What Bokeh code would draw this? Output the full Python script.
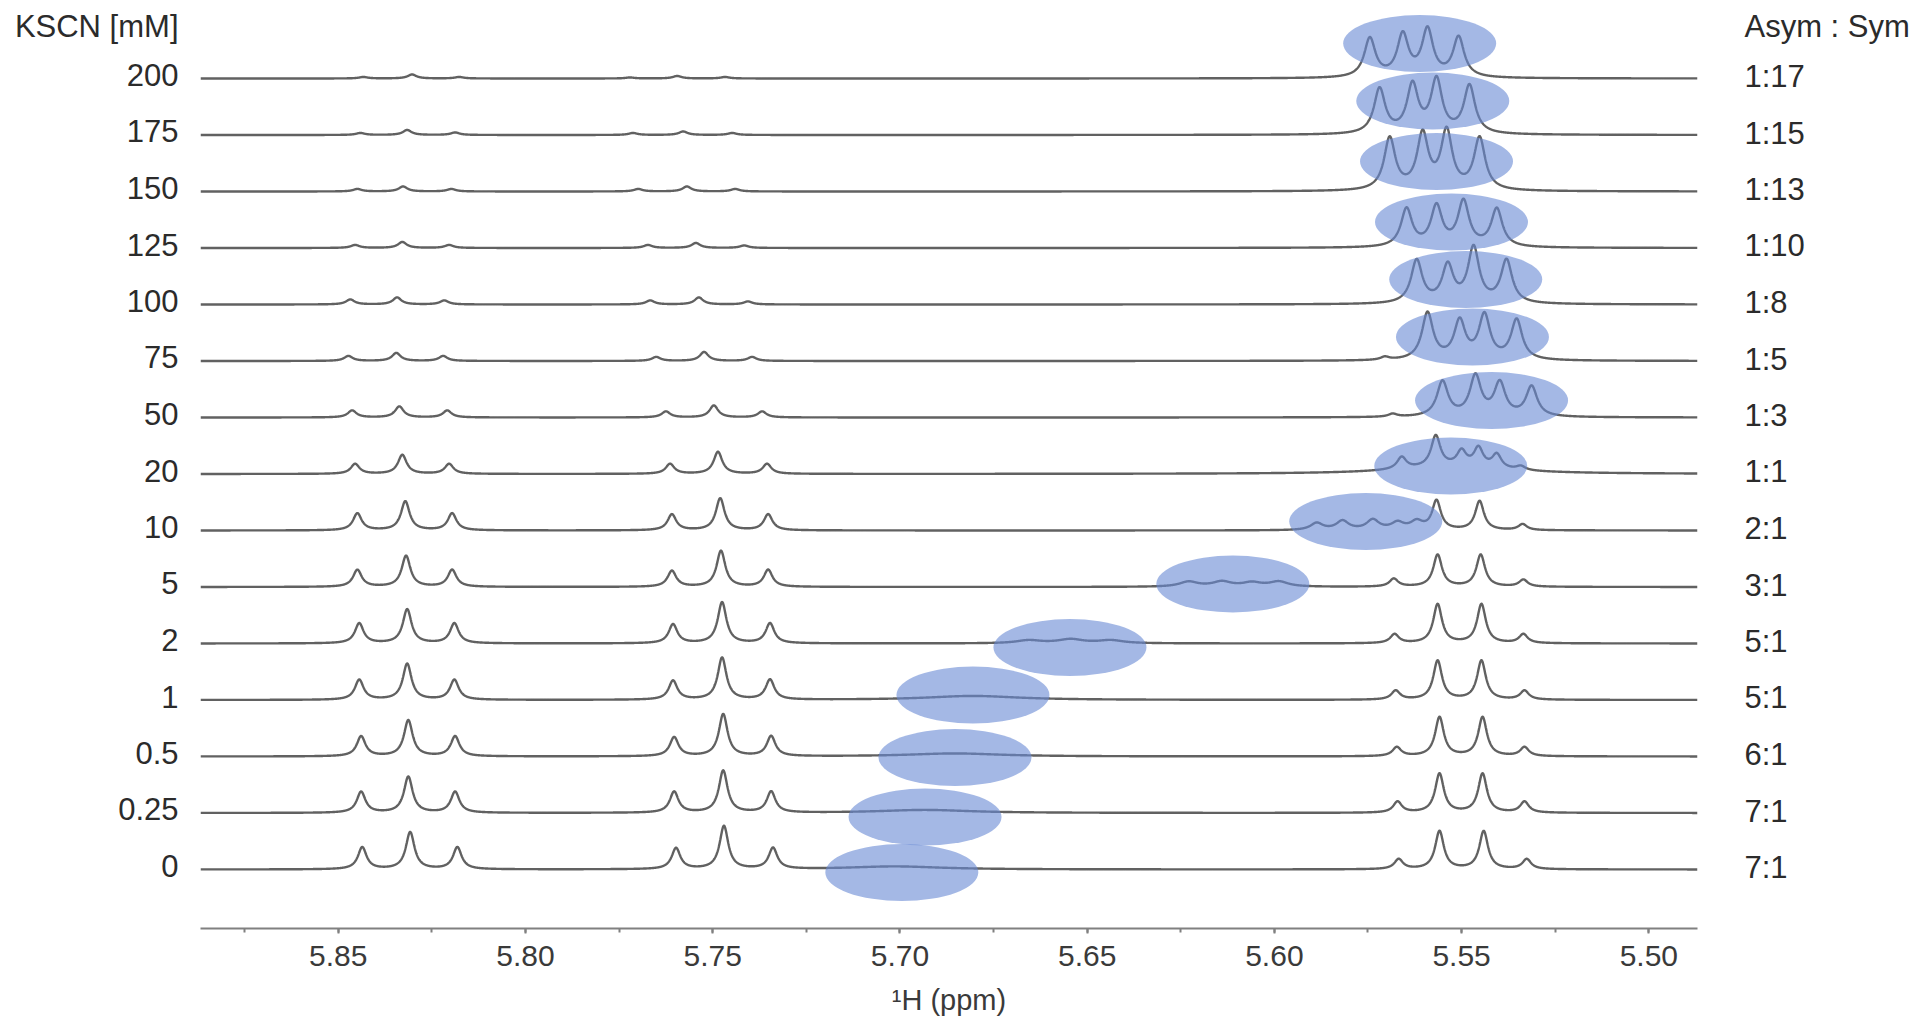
import numpy as np
from bokeh.plotting import figure
from bokeh.models import Range1d, LinearAxis, FixedTicker, SingleIntervalTicker, NumeralTickFormatter
from bokeh.embed import file_html
from bokeh.resources import INLINE

# ---------------- data (bottom trace first) ----------------
kscn_mM = ["0", "0.25", "0.5", "1", "2", "5", "10", "20", "50", "75", "100", "125", "150", "175", "200"]
asym_sym = ["7:1", "7:1", "6:1", "5:1", "5:1", "3:1", "2:1", "1:1", "1:3", "1:5", "1:8", "1:10", "1:13", "1:15", "1:17"]
left_header = "KSCN [mM]"
right_header = "Asym : Sym"

# peak lists: (chemical shift ppm, intensity, linewidth ppm)
peaks_0 = [(5.8436, 22, 0.0028), (5.8308, 37, 0.0028), (5.8182, 22, 0.0028),
           (5.7598, 21, 0.0028), (5.7470, 43, 0.0028), (5.7339, 21, 0.0028),
           (5.7013, 3, 0.030),
           (5.5668, 10, 0.0028), (5.5559, 38, 0.0028), (5.5441, 38, 0.0028), (5.5326, 10, 0.0028)]
peaks_0_25 = [(5.8439, 21, 0.0028), (5.8313, 36, 0.0028), (5.8188, 21, 0.0028),
              (5.7603, 21, 0.0028), (5.7472, 42, 0.0028), (5.7344, 21, 0.0028),
              (5.6933, 3, 0.030),
              (5.5671, 11, 0.0028), (5.5559, 39, 0.0028), (5.5444, 39, 0.0028), (5.5332, 11, 0.0028)]
peaks_0_5 = [(5.8439, 20, 0.0028), (5.8313, 36, 0.0028), (5.8188, 20, 0.0028),
             (5.7603, 19, 0.0028), (5.7472, 42, 0.0028), (5.7344, 20, 0.0028),
             (5.6853, 3, 0.030),
             (5.5673, 9, 0.0028), (5.5559, 39, 0.0028), (5.5444, 39, 0.0028), (5.5332, 9, 0.0028)]
peaks_1 = [(5.8444, 20, 0.0028), (5.8316, 36, 0.0028), (5.8190, 20, 0.0028),
           (5.7606, 19, 0.0028), (5.7475, 42, 0.0028), (5.7347, 20, 0.0028),
           (5.6805, 4, 0.030),
           (5.5676, 9, 0.0028), (5.5564, 39, 0.0028), (5.5447, 39, 0.0028), (5.5332, 9, 0.0028)]
peaks_2 = [(5.8444, 20, 0.0028), (5.8316, 34, 0.0028), (5.8190, 20, 0.0028),
           (5.7606, 19, 0.0028), (5.7475, 41, 0.0028), (5.7347, 20, 0.0028),
           (5.6656, 3, 0.008), (5.6544, 4, 0.008), (5.6437, 3, 0.008),
           (5.5679, 9, 0.0028), (5.5564, 39, 0.0028), (5.5447, 39, 0.0028), (5.5335, 9, 0.0028)]
peaks_5 = [(5.8449, 17, 0.0028), (5.8319, 31, 0.0028), (5.8196, 17, 0.0028),
           (5.7609, 16, 0.0028), (5.7478, 36, 0.0028), (5.7352, 17, 0.0028),
           (5.6229, 5, 0.006), (5.6140, 5, 0.006), (5.6060, 4, 0.006), (5.5988, 5, 0.006),
           (5.5681, 8, 0.0028), (5.5564, 32, 0.0028), (5.5449, 32, 0.0028), (5.5335, 7, 0.0028)]
peaks_10 = [(5.8449, 17, 0.0028), (5.8321, 29, 0.0028), (5.8196, 17, 0.0028),
            (5.7609, 16, 0.0028), (5.7480, 32, 0.0028), (5.7352, 16, 0.0028),
            (5.5887, 7, 0.004), (5.5818, 9, 0.004), (5.5737, 10, 0.004), (5.5671, 7, 0.004), (5.5620, 8, 0.004),
            (5.5567, 29, 0.0028), (5.5452, 29, 0.0028), (5.5337, 6, 0.0028)]
peaks_20 = [(5.8455, 10, 0.0028), (5.8329, 19, 0.0028), (5.8204, 10, 0.0028),
            (5.7614, 10, 0.0028), (5.7486, 22, 0.0028), (5.7355, 10, 0.0028),
            (5.5660, 12, 0.0030), (5.5569, 31, 0.0030), (5.5500, 15, 0.0030), (5.5455, 19, 0.0030),
            (5.5406, 14, 0.0030), (5.5342, 4, 0.0030), (5.5530, 7, 0.035)]
peaks_50 = [(5.8463, 7, 0.0028), (5.8337, 11, 0.0028), (5.8209, 7, 0.0028),
            (5.7625, 6, 0.0028), (5.7497, 12, 0.0028), (5.7368, 6, 0.0028),
            (5.5684, 3, 0.0028), (5.5551, 35, 0.0036), (5.5463, 40, 0.0036), (5.5398, 33, 0.0036), (5.5313, 30, 0.0036)]
peaks_75 = [(5.8473, 5, 0.0028), (5.8345, 8, 0.0028), (5.8220, 5, 0.0028),
            (5.7651, 4, 0.0028), (5.7523, 9, 0.0028), (5.7395, 4, 0.0028),
            (5.5705, 3, 0.0028), (5.5591, 47, 0.0036), (5.5505, 38, 0.0036), (5.5439, 44, 0.0036), (5.5353, 40, 0.0036)]
peaks_100 = [(5.8468, 5, 0.0028), (5.8343, 7, 0.0028), (5.8217, 4, 0.0028),
             (5.7667, 4, 0.0028), (5.7537, 7, 0.0028), (5.7406, 3, 0.0028),
             (5.5620, 43, 0.0036), (5.5537, 37, 0.0036), (5.5468, 55, 0.0036), (5.5380, 43, 0.0036)]
peaks_125 = [(5.8455, 3, 0.0028), (5.8329, 6, 0.0028), (5.8204, 3, 0.0028),
             (5.7673, 3, 0.0028), (5.7545, 5, 0.0028), (5.7416, 2.5, 0.0028),
             (5.5647, 38, 0.0036), (5.5567, 40, 0.0036), (5.5495, 45, 0.0036), (5.5406, 38, 0.0036)]
peaks_150 = [(5.8449, 2.5, 0.0028), (5.8327, 5, 0.0028), (5.8198, 2.5, 0.0028),
             (5.7699, 2.5, 0.0028), (5.7569, 5, 0.0028), (5.7440, 2.5, 0.0028),
             (5.5692, 52, 0.0036), (5.5604, 55, 0.0036), (5.5540, 58, 0.0036), (5.5452, 52, 0.0036)]
peaks_175 = [(5.8441, 2, 0.0028), (5.8316, 5, 0.0028), (5.8188, 2.5, 0.0028),
             (5.7713, 2, 0.0028), (5.7579, 3.5, 0.0028), (5.7448, 2, 0.0028),
             (5.5719, 45, 0.0036), (5.5631, 48, 0.0036), (5.5567, 53, 0.0036), (5.5479, 48, 0.0036)]
peaks_200 = [(5.8433, 1.5, 0.0028), (5.8303, 4, 0.0028), (5.8177, 1.5, 0.0028),
             (5.7721, 1, 0.0028), (5.7595, 2.5, 0.0028), (5.7467, 1.5, 0.0028),
             (5.5745, 39, 0.0036), (5.5657, 42, 0.0036), (5.5591, 47, 0.0036), (5.5508, 40, 0.0036)]

spectra_peaks = [peaks_0, peaks_0_25, peaks_0_5, peaks_1, peaks_2, peaks_5, peaks_10, peaks_20,
                 peaks_50, peaks_75, peaks_100, peaks_125, peaks_150, peaks_175, peaks_200]

# highlighted (asymmetric) signal per trace: centre shift in ppm, vertical offset from baseline
highlight_ppm = [5.6995, 5.6933, 5.6853, 5.6805, 5.6546, 5.6111, 5.5756, 5.5529,
                 5.5420, 5.5471, 5.5489, 5.5527, 5.5567, 5.5577, 5.5612]
highlight_dy = [-3, -4, -1, 5, -4, 3, 9, 8, 17, 24, 25, 26, 30, 34, 35]

# ---------------- layout constants ----------------
PPM_LEFT, PPM_RIGHT = 5.8868, 5.4870
STACK = 56.5
TEXT_FONT = "Liberation Sans"
TEXT_COLOR = "#2b2b2b"

p = figure(width=1912, height=1030,
           x_range=Range1d(PPM_LEFT, PPM_RIGHT), y_range=Range1d(-59, 861),
           min_border_left=200, min_border_right=214, min_border_top=8, min_border_bottom=102,
           output_backend="svg", toolbar_location=None, y_axis_location=None)
p.outline_line_color = None
p.grid.visible = False
p.background_fill_color = "white"
p.border_fill_color = "white"

# spectra
x = np.linspace(PPM_RIGHT, PPM_LEFT, 5000)
for i, peaks in enumerate(spectra_peaks):
    y = np.zeros_like(x)
    for c, h, w in peaks:
        y += h / (1.0 + ((x - c) / (w / 2.0)) ** 2)
    p.line(x, y + i * STACK, line_color="#616161", line_width=2.4)

# highlight ellipses
ell_y = [i * STACK + d for i, d in enumerate(highlight_dy)]
p.ellipse(x=highlight_ppm, y=ell_y, width=153, height=57,
          width_units="screen", height_units="screen",
          fill_color="#6888d3", fill_alpha=0.6, line_color=None)

# x axis
xa = p.xaxis[0]
xa.ticker = SingleIntervalTicker(interval=0.05, num_minor_ticks=2)
xa.formatter = NumeralTickFormatter(format="0.00")
xa.axis_line_color = "#808080"
xa.axis_line_width = 2
xa.major_tick_line_color = "#808080"
xa.major_tick_line_width = 2
xa.minor_tick_line_color = "#808080"
xa.minor_tick_line_width = 2
xa.major_tick_in = 0
xa.major_tick_out = 5
xa.minor_tick_in = 0
xa.minor_tick_out = 4
xa.major_label_standoff = 12
xa.major_label_text_font = TEXT_FONT
xa.major_label_text_font_size = "30px"
xa.major_label_text_color = "#3a3a3a"
xa.axis_label = "\u00b9H (ppm)"
xa.axis_label_text_font = TEXT_FONT
xa.axis_label_text_font_size = "29px"
xa.axis_label_text_font_style = "normal"
xa.axis_label_text_color = "#3a3a3a"
xa.axis_label_standoff = 15

# left labels (concentrations) and right labels (ratios) as axis tick labels
HEADER_Y = 843
left_ticks = [int(round(i * STACK + 3)) for i in range(len(kscn_mM))] + [HEADER_Y]
left_text = kscn_mM + [left_header]
right_ticks = [int(round(i * STACK + 2)) for i in range(len(asym_sym))] + [HEADER_Y]
right_text = asym_sym + [right_header]


def label_axis(ticks, texts, standoff):
    ax = LinearAxis(ticker=FixedTicker(ticks=ticks),
                    major_label_overrides={t: s for t, s in zip(ticks, texts)})
    ax.axis_line_color = None
    ax.major_tick_line_color = None
    ax.minor_tick_line_color = None
    ax.major_tick_in = 0
    ax.major_tick_out = 0
    ax.major_label_standoff = standoff
    ax.major_label_text_font = TEXT_FONT
    ax.major_label_text_font_size = "31px"
    ax.major_label_text_color = TEXT_COLOR
    return ax


p.add_layout(label_axis(left_ticks, left_text, 22), "left")
p.add_layout(label_axis(right_ticks, right_text, 47), "right")

open("out.html", "w").write(file_html(p, INLINE))
